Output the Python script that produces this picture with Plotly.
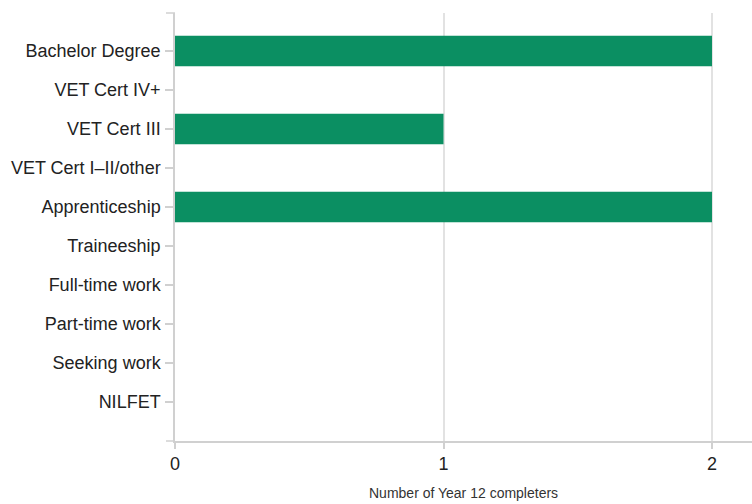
import plotly.graph_objects as go

categories = ["Bachelor Degree", "VET Cert IV+", "VET Cert III", "VET Cert I\u2013II/other",
              "Apprenticeship", "Traineeship", "Full-time work", "Part-time work",
              "Seeking work", "NILFET"]
values = [2, 0, 1, 0, 2, 0, 0, 0, 0, 0]
x_ticks = [0, 1, 2]
x_title = "Number of Year 12 completers"

bar_color = "#0b8f62"
axis_color = "#d0d0d0"
grid_color = "#e2e2e2"
font_family = "Liberation Sans, Arial, sans-serif"

fig = go.Figure()
fig.add_trace(go.Bar(
    x=values, y=categories, orientation="h",
    marker=dict(color=bar_color, line=dict(width=0)),
    width=0.78, hoverinfo="x+y",
))

W, H = 752, 504
L, R, T, B = 175, 0, 13, 63
pw = W - L - R
ph = H - T - B

fig.update_layout(
    width=W, height=H,
    margin=dict(l=L, r=R, t=T, b=B, pad=0, autoexpand=False),
    paper_bgcolor="white", plot_bgcolor="white",
    showlegend=False,
    font=dict(family=font_family, color="#333333"),
    xaxis=dict(
        range=[0, 2.149], tickvals=x_ticks, ticktext=[str(v) for v in x_ticks],
        showgrid=True, gridcolor=grid_color, gridwidth=1.5,
        zeroline=False, showline=True, linecolor=axis_color, linewidth=1.5,
        ticks="outside", ticklen=6, tickcolor=axis_color, tickwidth=1.5,
        tickfont=dict(size=18, color="#222222"), automargin=False,
    ),
    yaxis=dict(
        categoryorder="array", categoryarray=categories,
        range=[10.0, -0.974],
        showgrid=False, zeroline=False, showline=True, linecolor=axis_color, linewidth=1.5,
        ticks="outside", ticklen=8, tickcolor=axis_color, tickwidth=1.5,
        tickfont=dict(size=18, color="#222222"), automargin=False,
        ticklabelstandoff=1,
    ),
    bargap=0.2,
)

fig.add_annotation(text=x_title, xref="paper", yref="paper", x=0.5, y=-52 / ph,
                   xanchor="center", yanchor="middle", showarrow=False,
                   font=dict(size=14, color="#333333"))

# domain-end stubs (top of y axis, left of x axis)
stub = 9 / pw
fig.add_shape(type="line", xref="paper", yref="paper", x0=-stub, x1=0, y0=1, y1=1,
              line=dict(color=axis_color, width=1.5))
fig.add_shape(type="line", xref="paper", yref="paper", x0=-stub, x1=0, y0=0, y1=0,
              line=dict(color=axis_color, width=1.5))

fig.write_html("out.html", config={"displayModeBar": False},
               post_script="document.body.style.margin='0';document.body.style.padding='0';")
